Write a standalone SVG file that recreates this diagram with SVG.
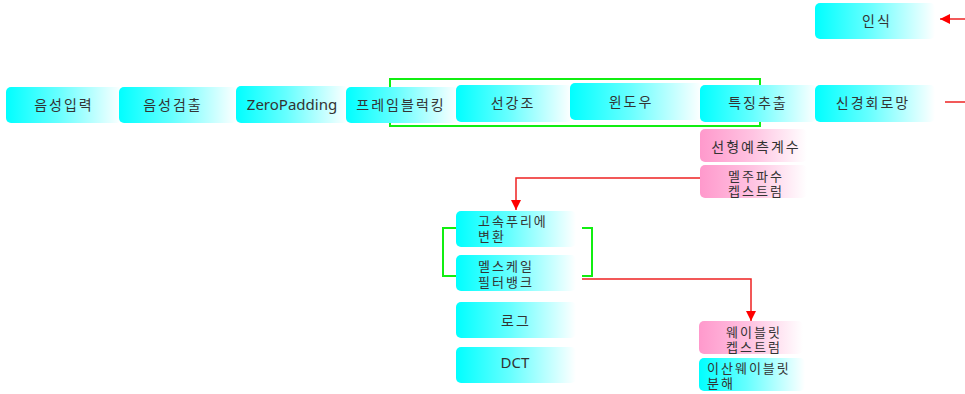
<svg xmlns="http://www.w3.org/2000/svg" width="965" height="394" viewBox="0 0 965 394">
<defs>
<linearGradient id="gc" x1="0" y1="0" x2="1" y2="0">
<stop offset="0" stop-color="#00ffff"/>
<stop offset="0.45" stop-color="#66ffff"/>
<stop offset="1" stop-color="#ffffff"/>
</linearGradient>
<linearGradient id="gp" x1="0" y1="0" x2="1" y2="0">
<stop offset="0" stop-color="#ff99cc"/>
<stop offset="0.5" stop-color="#ffc4e2"/>
<stop offset="1" stop-color="#ffffff"/>
</linearGradient>
<marker id="ah" viewBox="0 0 10 10" refX="10" refY="5" markerWidth="10" markerHeight="10" markerUnits="userSpaceOnUse" orient="auto">
<path d="M0,0 L10,5 L0,10 z" fill="#ff0000"/>
</marker>
<style>
.c{fill:url(#gc)}
.p{fill:url(#gp)}
text{font-family:"Noto Sans CJK KR","Noto Sans",sans-serif;font-size:14px;fill:#333;letter-spacing:2px}
.s{font-size:13px}
.m{text-anchor:middle}
.e{font-family:"Noto Sans","DejaVu Sans",sans-serif;letter-spacing:0;font-size:15px}
.g{fill:none;stroke:#11ee11;stroke-width:2}
.r{fill:none;stroke:#ee2222;stroke-width:1.5}
</style>
</defs>
<g id="connectors">
<rect class="g" x="390" y="79" width="370" height="47"/>
<path class="g" d="M456,228 H443 V276 H456"/>
<path class="g" d="M582,228 H592 V276 H582"/>
<path class="r" d="M700,178 H516 V210" marker-end="url(#ah)"/>
<path class="r" d="M582,279 H751 V321" marker-end="url(#ah)"/>
<path class="r" d="M965,19 H940" marker-end="url(#ah)"/>
<path class="r" d="M945,102 H965"/>
</g>
<g id="n1"><rect class="c" x="6" y="87" width="116" height="36" rx="5"/><text class="m" x="64" y="110">음성입력</text></g>
<g id="n2"><rect class="c" x="119" y="87" width="118" height="36" rx="5"/><text class="m" x="173" y="110">음성검출</text></g>
<g id="n3"><rect class="c" x="236" y="86" width="112" height="37" rx="5"/><text class="m e" x="292" y="110">ZeroPadding</text></g>
<g id="n4"><rect class="c" x="346" y="87" width="112" height="36" rx="5"/><text class="m" x="401" y="110">프레임블럭킹</text></g>
<g id="n5"><rect class="c" x="456" y="85" width="116" height="37" rx="5"/><text class="m" x="513" y="108">선강조</text></g>
<g id="n6"><rect class="c" x="570" y="83" width="132" height="37" rx="5"/><text class="m" x="631" y="107">윈도우</text></g>
<g id="n7"><rect class="c" x="700" y="85" width="117" height="37" rx="5"/><text class="m" x="758" y="108">특징추출</text></g>
<g id="n8"><rect class="c" x="815" y="85" width="120" height="37" rx="5"/><text class="m" x="873" y="108">신경회로망</text></g>
<g id="n9"><rect class="c" x="815" y="3" width="120" height="36" rx="5"/><text class="m" x="877" y="26">인식</text></g>
<g id="n10"><rect class="p" x="700" y="129" width="107" height="33" rx="5"/><text class="m" x="756" y="152">선형예측계수</text></g>
<g id="n11"><rect class="p" x="700" y="165" width="107" height="33" rx="5"/><text class="m s" x="756" y="181">멜주파수</text><text class="m s" x="756" y="196">켑스트럼</text></g>
<g id="n12"><rect class="c" x="456" y="211" width="120" height="36" rx="5"/><text class="s" x="478" y="226">고속푸리에</text><text class="s" x="478" y="241">변환</text></g>
<g id="n13"><rect class="c" x="456" y="255" width="120" height="36" rx="5"/><text class="s" x="478" y="271">멜스케일</text><text class="s" x="478" y="287">필터뱅크</text></g>
<g id="n14"><rect class="c" x="456" y="302" width="120" height="36" rx="5"/><text class="m" x="516" y="326">로그</text></g>
<g id="n15"><rect class="c" x="456" y="347" width="120" height="36" rx="5"/><text class="m e" x="515" y="368">DCT</text></g>
<g id="n16"><rect class="p" x="699" y="321" width="104" height="33" rx="5"/><text class="m s" x="754" y="337">웨이블릿</text><text class="m s" x="754" y="352">켑스트럼</text></g>
<g id="n17"><rect class="c" x="699" y="358" width="106" height="33" rx="5"/><text class="s" x="707" y="373">이산웨이블릿</text><text class="s" x="707" y="388">분해</text></g>
</svg>
